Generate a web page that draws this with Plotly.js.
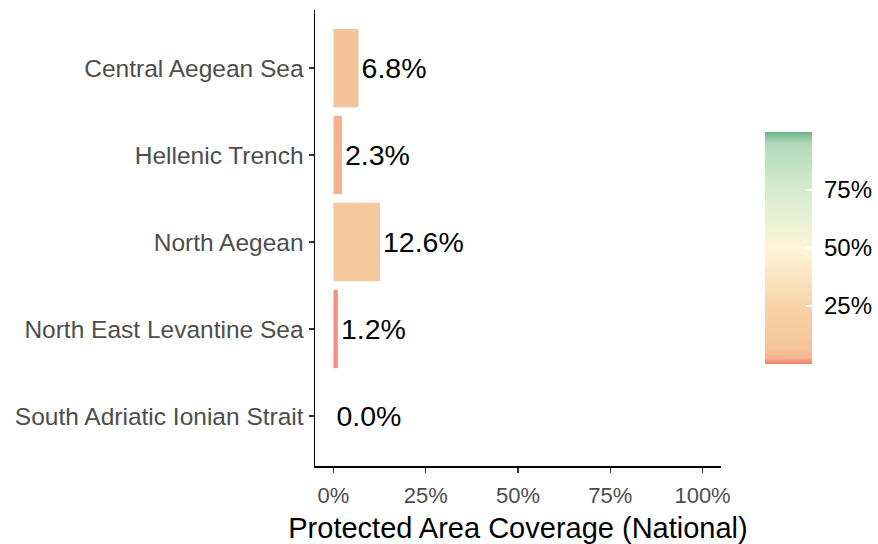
<!DOCTYPE html>
<html>
<head>
<meta charset="utf-8">
<script src="https://cdn.plot.ly/plotly-3.0.1.min.js"></script>
<style>
  body { margin: 0; background: white; }
  #chart { width: 878px; height: 544px; }
</style>
</head>
<body>
<div id="chart"></div>
<script>
// protected area coverage per region (national)
const regions = [
  'Central Aegean Sea',
  'Hellenic Trench',
  'North Aegean',
  'North East Levantine Sea',
  'South Adriatic Ionian Strait'
];
const coverage = [6.8, 2.3, 12.6, 1.2, 0.0];

const xTicks = [0, 25, 50, 75, 100];
const xTickText = ['0%', '25%', '50%', '75%', '100%'];
const cbTicks = [25, 50, 75];
const cbTickText = ['\u00a025%', '\u00a050%', '\u00a075%'];

// red -> cream -> green, steep near zero
const fillScale = [
  [0.0, '#F47F6C'],
  [0.012, '#F5927A'],
  [0.023, '#F7B08E'],
  [0.068, '#F4C39A'],
  [0.126, '#F5C99D'],
  [0.25, '#F7D3A8'],
  [0.5, '#FDF5D8'],
  [0.75, '#D6EBCC'],
  [0.95, '#B2DABA'],
  [1.0, '#6DB38A']
];

const fontFam = 'Liberation Sans, Arial, sans-serif';

const trace = {
  type: 'bar',
  orientation: 'h',
  x: coverage,
  y: regions,
  width: 0.9,
  texttemplate: '%{x:.1f}%',
  textposition: 'outside',
  constraintext: 'none',
  cliponaxis: false,
  textfont: { size: 28.5, color: '#000000', family: fontFam },
  hoverinfo: 'skip',
  marker: {
    color: coverage,
    cmin: 0,
    cmax: 100,
    colorscale: fillScale,
    line: { width: 0 },
    showscale: true,
    colorbar: {
      x: 1.108,
      xanchor: 'left',
      xpad: 0,
      y: 0.478,
      yanchor: 'middle',
      ypad: 0,
      len: 232,
      lenmode: 'pixels',
      thickness: 47,
      thicknessmode: 'pixels',
      outlinewidth: 0,
      tickvals: cbTicks,
      ticktext: cbTickText,
      ticks: 'inside',
      tickcolor: '#ffffff',
      ticklen: 6,
      tickwidth: 1.5,
      tickfont: { size: 24, color: '#000000', family: fontFam }
    }
  }
};

const layout = {
  width: 878,
  height: 544,
  margin: { l: 315, r: 157, t: 10, b: 78, autoexpand: false },
  paper_bgcolor: '#ffffff',
  plot_bgcolor: '#ffffff',
  font: { family: fontFam },
  showlegend: false,
  xaxis: {
    range: [-5, 105],
    tickvals: xTicks,
    ticktext: xTickText,
    showgrid: false,
    zeroline: false,
    showline: true,
    linecolor: '#000000',
    linewidth: 1.5,
    ticks: 'outside',
    ticklen: 5,
    tickwidth: 1.5,
    tickcolor: '#333333',
    ticklabelstandoff: 4,
    tickfont: { size: 22, color: '#4D4D4D' },
    title: { text: 'Protected Area Coverage (National)', font: { size: 29, color: '#000000' }, standoff: 12 }
  },
  yaxis: {
    range: [4.575, -0.667],
    showgrid: false,
    zeroline: false,
    showline: true,
    linecolor: '#000000',
    linewidth: 1.5,
    ticks: 'outside',
    ticklen: 5,
    tickwidth: 1.5,
    tickcolor: '#333333',
    tickfont: { size: 24.5, color: '#4D4D4D' }
  }
};

Plotly.newPlot('chart', [trace], layout, { displayModeBar: false, staticPlot: true });
</script>
</body>
</html>
